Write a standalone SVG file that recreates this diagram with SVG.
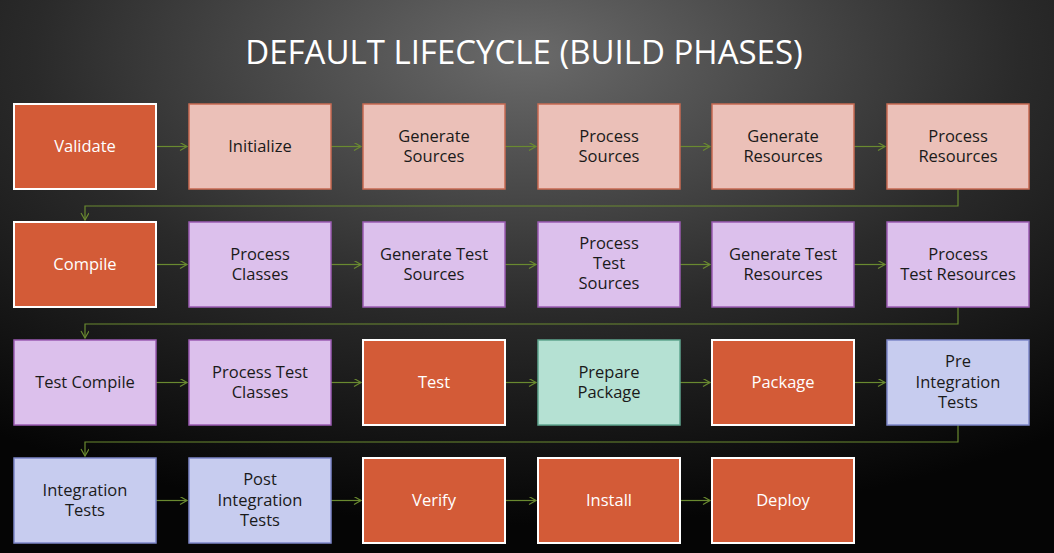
<svg xmlns="http://www.w3.org/2000/svg" width="1054" height="553" viewBox="0 0 1054 553">
<defs>
<radialGradient id="bg" cx="0.5" cy="0.1" r="0.85">
<stop offset="0" stop-color="#6a6a6a"/><stop offset="0.55" stop-color="#2a2a2a"/><stop offset="1" stop-color="#050505"/>
</radialGradient>
<marker id="ar" markerWidth="10" markerHeight="10" refX="8" refY="4" orient="auto" markerUnits="userSpaceOnUse"><path d="M1,0 L8,4 L1,8" fill="none" stroke="#6a8a30" stroke-width="1.2"/></marker>
<style>
rect{stroke-width:1.5}
.o{fill:#D35B37;stroke:#fff;stroke-width:2}
.p{fill:#EBC0B8;stroke:#C76A52}
.v{fill:#DCC0EC;stroke:#9B5BB3}
.g{fill:#B5E1D3;stroke:#5FA58F}
.b{fill:#C7CCEF;stroke:#7D86C9}
text{font-family:"Open Sans","DejaVu Sans",sans-serif;font-size:16.5px;text-anchor:middle;fill:#1a1a1a}
.w{fill:#fff}
.c{fill:none;stroke:#6a8a30;stroke-width:1.2;marker-end:url(#ar)}
</style>
</defs>
<rect width="1054" height="553" fill="url(#bg)"/>
<text x="524" y="64" style="font-size:33px;fill:#fff">DEFAULT LIFECYCLE (BUILD PHASES)</text>
<g id="connectors">
<path class="c" d="M156,146.5H187"/><path class="c" d="M331,146.5H361"/><path class="c" d="M505,146.5H536"/><path class="c" d="M680,146.5H710"/><path class="c" d="M854,146.5H885"/>
<path class="c" d="M156,264.5H187"/><path class="c" d="M331,264.5H361"/><path class="c" d="M505,264.5H536"/><path class="c" d="M680,264.5H710"/><path class="c" d="M854,264.5H885"/>
<path class="c" d="M156,382.5H187"/><path class="c" d="M331,382.5H361"/><path class="c" d="M505,382.5H536"/><path class="c" d="M680,382.5H710"/><path class="c" d="M854,382.5H885"/>
<path class="c" d="M156,500.5H187"/><path class="c" d="M331,500.5H361"/><path class="c" d="M505,500.5H536"/><path class="c" d="M680,500.5H710"/>
<path class="c" d="M958,189V206H85V220"/>
<path class="c" d="M958,307V324H85V338"/>
<path class="c" d="M958,425V442H85V456"/>
</g>
<g id="validate"><rect class="o" x="14" y="104" width="142" height="85"/><text class="w" x="85" y="152">Validate</text></g>
<g id="initialize"><rect class="p" x="189" y="104" width="142" height="85"/><text x="260" y="152">Initialize</text></g>
<g id="gensrc"><rect class="p" x="363" y="104" width="142" height="85"/><text x="434" y="142">Generate</text><text x="434" y="162">Sources</text></g>
<g id="procsrc"><rect class="p" x="538" y="104" width="142" height="85"/><text x="609" y="142">Process</text><text x="609" y="162">Sources</text></g>
<g id="genres"><rect class="p" x="712" y="104" width="142" height="85"/><text x="783" y="142">Generate</text><text x="783" y="162">Resources</text></g>
<g id="procres"><rect class="p" x="887" y="104" width="142" height="85"/><text x="958" y="142">Process</text><text x="958" y="162">Resources</text></g>
<g id="compile"><rect class="o" x="14" y="222" width="142" height="85"/><text class="w" x="85" y="270">Compile</text></g>
<g id="proccls"><rect class="v" x="189" y="222" width="142" height="85"/><text x="260" y="260">Process</text><text x="260" y="280">Classes</text></g>
<g id="gentsrc"><rect class="v" x="363" y="222" width="142" height="85"/><text x="434" y="260">Generate Test</text><text x="434" y="280">Sources</text></g>
<g id="proctsrc"><rect class="v" x="538" y="222" width="142" height="85"/><text x="609" y="249">Process</text><text x="609" y="269">Test</text><text x="609" y="289">Sources</text></g>
<g id="gentres"><rect class="v" x="712" y="222" width="142" height="85"/><text x="783" y="260">Generate Test</text><text x="783" y="280">Resources</text></g>
<g id="proctres"><rect class="v" x="887" y="222" width="142" height="85"/><text x="958" y="260">Process</text><text x="958" y="280">Test Resources</text></g>
<g id="testcompile"><rect class="v" x="14" y="340" width="142" height="85"/><text x="85" y="388">Test Compile</text></g>
<g id="proctcls"><rect class="v" x="189" y="340" width="142" height="85"/><text x="260" y="378">Process Test</text><text x="260" y="398">Classes</text></g>
<g id="test"><rect class="o" x="363" y="340" width="142" height="85"/><text class="w" x="434" y="388">Test</text></g>
<g id="preppkg"><rect class="g" x="538" y="340" width="142" height="85"/><text x="609" y="378">Prepare</text><text x="609" y="398">Package</text></g>
<g id="package"><rect class="o" x="712" y="340" width="142" height="85"/><text class="w" x="783" y="388">Package</text></g>
<g id="preint"><rect class="b" x="887" y="340" width="142" height="85"/><text x="958" y="367">Pre</text><text x="958" y="388">Integration</text><text x="958" y="408">Tests</text></g>
<g id="inttests"><rect class="b" x="14" y="458" width="142" height="85"/><text x="85" y="496">Integration</text><text x="85" y="516">Tests</text></g>
<g id="postint"><rect class="b" x="189" y="458" width="142" height="85"/><text x="260" y="485">Post</text><text x="260" y="506">Integration</text><text x="260" y="526">Tests</text></g>
<g id="verify"><rect class="o" x="363" y="458" width="142" height="85"/><text class="w" x="434" y="506">Verify</text></g>
<g id="install"><rect class="o" x="538" y="458" width="142" height="85"/><text class="w" x="609" y="506">Install</text></g>
<g id="deploy"><rect class="o" x="712" y="458" width="142" height="85"/><text class="w" x="783" y="506">Deploy</text></g>
</svg>
